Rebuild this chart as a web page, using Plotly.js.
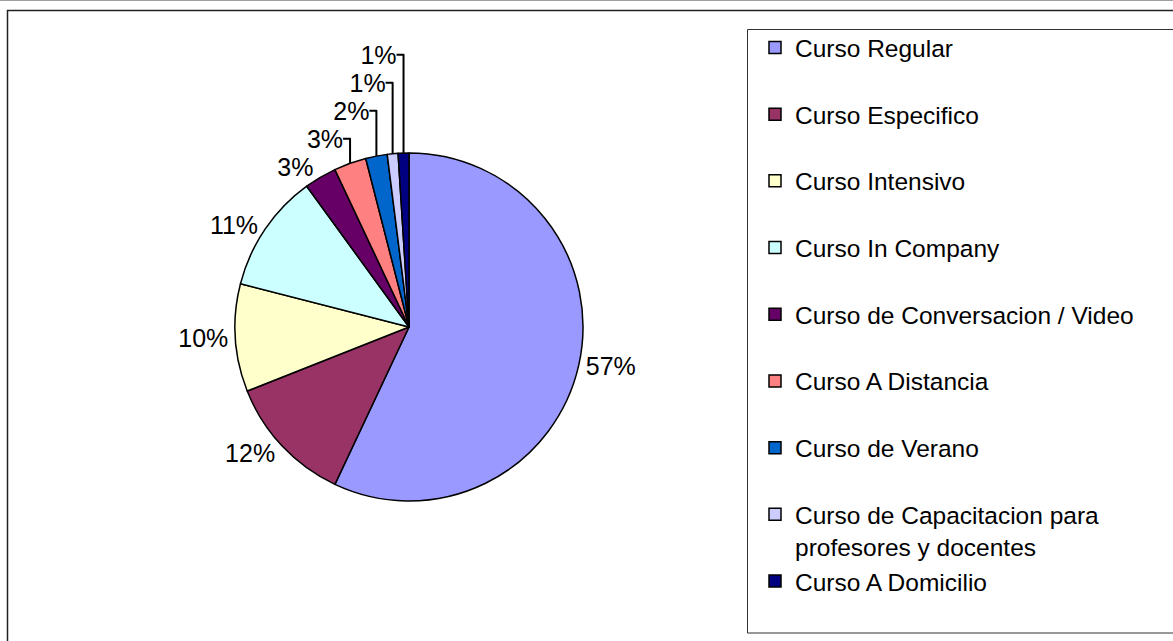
<!DOCTYPE html>
<html>
<head>
<meta charset="utf-8">
<script src="https://cdn.plot.ly/plotly-3.0.1.min.js"></script>
<style>
  html, body { margin: 0; padding: 0; background: #fff; }
  #chart { width: 1173px; height: 641px; }
</style>
</head>
<body>
<div id="chart"></div>
<script>
window.addEventListener("load", () => {
  const W = 1173, H = 641;

  const categories = [
    "Curso Regular",
    "Curso Especifico",
    "Curso Intensivo",
    "Curso In Company",
    "Curso de Conversacion / Video",
    "Curso A Distancia",
    "Curso de Verano",
    "Curso de Capacitacion para<br>profesores y docentes",
    "Curso A Domicilio"
  ];
  const shares = [57, 12, 10, 11, 3, 3, 2, 1, 1];
  const colors = ["#9999FF", "#993366", "#FFFFCC", "#CCFFFF", "#660066",
                  "#FF8080", "#0066CC", "#CCCCFF", "#000080"];

  // pixel -> paper helpers
  const px = v => v / W;
  const py = v => 1 - v / H;

  // every legend entry takes two lines, like the excel legend spacing
  const legendLabels = categories.map(c => c.includes("<br>") ? c : c + "<br> ");

  const cx = 409, cy = 327, r = 174;

  const trace = {
    type: "pie",
    values: shares,
    labels: legendLabels,
    sort: false,
    direction: "clockwise",
    rotation: 0,
    marker: { colors: colors, line: { color: "#000", width: 1.5 } },
    textinfo: "percent",
    texttemplate: "%{percent:.0%}",
    textposition: "outside",
    outsidetextfont: { family: "Liberation Sans, Arial, sans-serif", size: 25, color: "#000" },
    domain: { x: [px(cx - r), px(cx + r)], y: [py(cy + r), py(cy - r)] },
    hoverinfo: "label+percent"
  };

  const layout = {
    width: W, height: H,
    margin: { l: 0, r: 0, t: 0, b: 0 },
    paper_bgcolor: "#fff",
    font: { family: "Liberation Sans, Arial, sans-serif", color: "#000" },
    showlegend: true,
    legend: {
      x: px(755), xanchor: "left",
      y: py(25), yanchor: "top",
      valign: "top",
      font: { size: 24.5, color: "#000" },
      bgcolor: "rgba(0,0,0,0)",
      borderwidth: 0
    },
    shapes: [
      { type: "line", xref: "paper", yref: "paper", x0: 0, x1: 1, y0: py(0.5), y1: py(0.5),
        line: { color: "#a0a0a0", width: 1 } },
      { type: "rect", xref: "paper", yref: "paper", x0: px(7.5), x1: px(1200), y0: py(700), y1: py(10.5),
        line: { color: "#222", width: 1.5 } },
      { type: "rect", xref: "paper", yref: "paper", x0: px(747.5), x1: px(1200), y0: py(633), y1: py(29.5),
        line: { color: "#333", width: 1 } }
    ]
  };

  Plotly.newPlot("chart", [trace], layout, { displayModeBar: false, staticPlot: true });
});
</script>
</body>
</html>
